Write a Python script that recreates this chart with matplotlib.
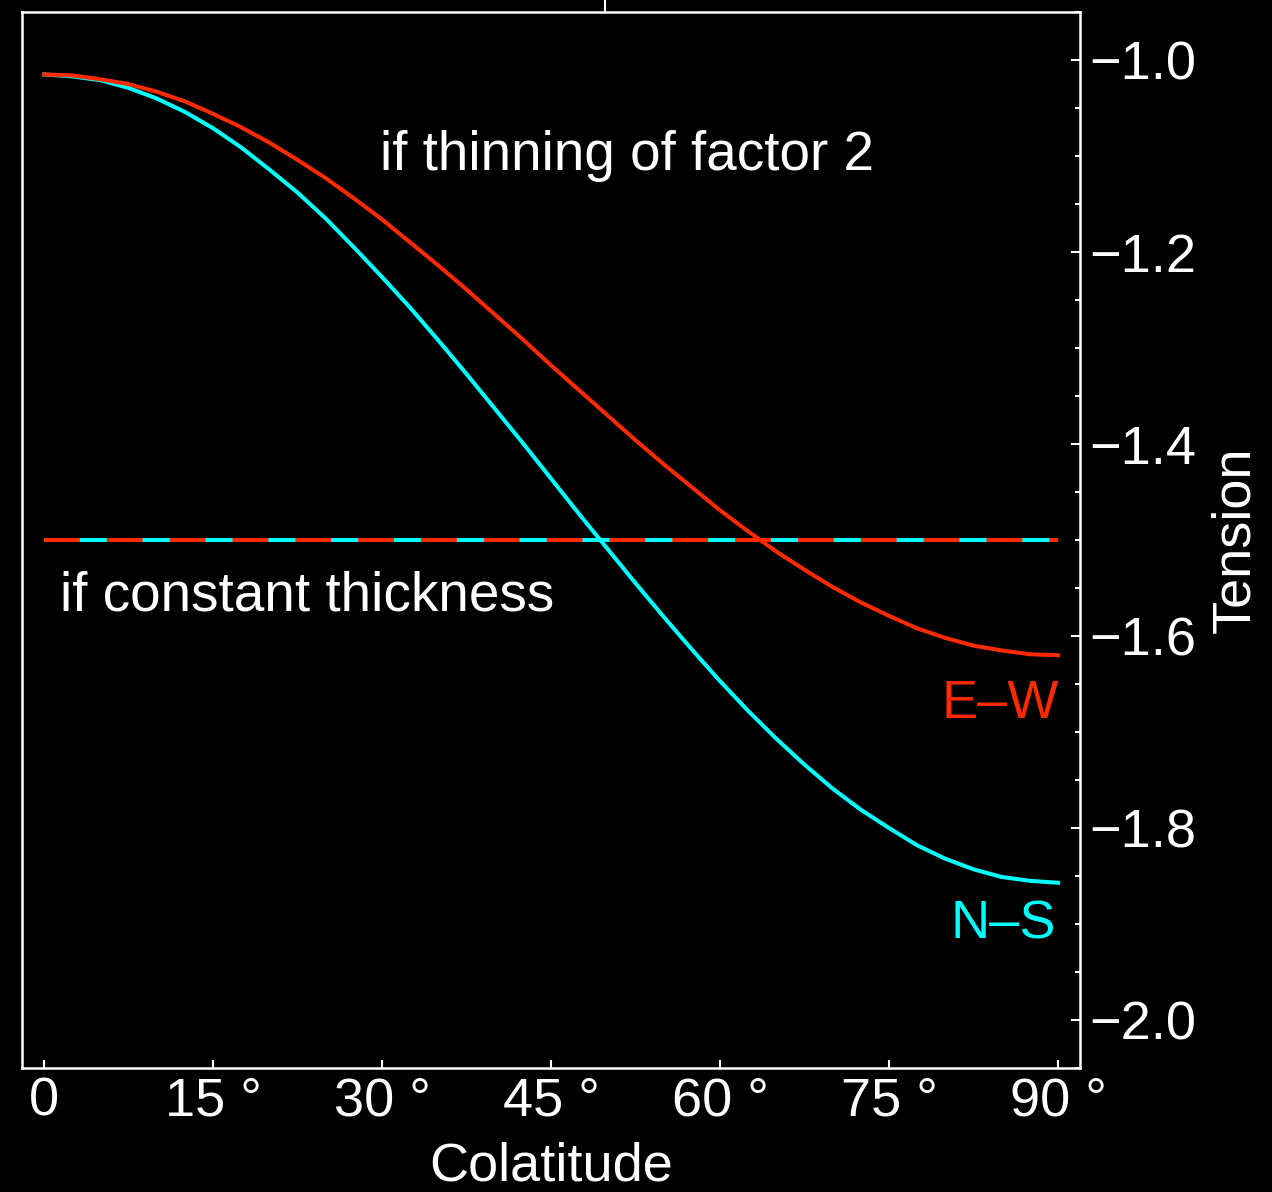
#!/usr/bin/env python3

import numpy as np
import matplotlib
matplotlib.use("Agg")
import matplotlib.pyplot as plt
from matplotlib.ticker import MultipleLocator


# values (colatitude in degrees, tension)
colatitude = [0, 2.5, 5, 7.5, 10, 12.5, 15, 17.5, 20, 22.5, 25, 27.5, 30,
              32.5, 35, 37.5, 40, 42.5, 45, 47.5, 50, 52.5, 55, 57.5, 60,
              62.5, 65, 67.5, 70, 72.5, 75, 77.5, 80, 82.5, 85, 87.5, 90]
tension_ew = [-1.015, -1.016, -1.020, -1.025, -1.033, -1.043, -1.056, -1.070,
              -1.086, -1.104, -1.123, -1.144, -1.166, -1.190, -1.214, -1.239,
              -1.265, -1.291, -1.318, -1.344, -1.370, -1.396, -1.421, -1.445,
              -1.469, -1.491, -1.512, -1.531, -1.549, -1.565, -1.579, -1.592,
              -1.602, -1.610, -1.615, -1.619, -1.620]
tension_ns = [-1.015, -1.017, -1.021, -1.029, -1.040, -1.054, -1.071, -1.091,
              -1.114, -1.138, -1.165, -1.195, -1.226, -1.258, -1.292, -1.327,
              -1.363, -1.399, -1.436, -1.473, -1.509, -1.545, -1.580, -1.614,
              -1.647, -1.678, -1.707, -1.734, -1.759, -1.781, -1.800, -1.818,
              -1.832, -1.843, -1.851, -1.855, -1.857]
constant_tension = -1.5

x_ticks = [0, 15, 30, 45, 60, 75, 90]
x_tick_labels = ["0", "15 °", "30 °", "45 °", "60 °", "75 °", "90 °"]
y_ticks = [-1.0, -1.2, -1.4, -1.6, -1.8, -2.0]
top_tick = [49.8]

RED = "#ff2a00"
CYAN = "#00ffff"
FG = "white"
LW = 2.9


def set_plot_style():
    plt.rcParams.update({
        "font.family": ["Liberation Sans", "DejaVu Sans"],
        "font.size": 39,
        "axes.linewidth": 1.8,
        "axes.edgecolor": FG,
        "axes.labelcolor": FG,
        "text.color": FG,
        "xtick.color": FG,
        "ytick.color": FG,
        "figure.facecolor": "black",
        "axes.facecolor": "black",
        "savefig.facecolor": "black",
    })


def make_plot():
    set_plot_style()

    fig = plt.figure(figsize=(12.72, 11.92), dpi=100)
    ax = fig.add_axes([0.0173, 0.104, 0.8318, 0.8859])

    x = np.asarray(colatitude, dtype=float)
    flat = np.full(len(x), constant_tension)

    # constant thickness: both components coincide -> two-colour dashes
    ax.plot(x, flat, color=CYAN, lw=LW, solid_capstyle="butt")
    ax.plot(x, flat, color=RED, lw=LW, dashes=(8.9, 6.7),
            dash_capstyle="butt")

    ax.plot(x, tension_ns, color=CYAN, lw=LW)
    ax.plot(x, tension_ew, color=RED, lw=LW)

    ax.set_xlim(-1.95, 91.95)
    ax.set_ylim(-2.05, -0.95)

    ax.set_xticks(x_ticks)
    ax.set_xticklabels(x_tick_labels)
    ax.tick_params(axis="x", direction="in", length=6, width=1.5, pad=6,
                   labelsize=39)

    ax.yaxis.tick_right()
    ax.yaxis.set_label_position("right")
    ax.set_yticks(y_ticks)
    ax.yaxis.set_minor_locator(MultipleLocator(0.05))
    ax.tick_params(axis="y", which="major", direction="in", length=6.5,
                   width=1.5, pad=7, labelsize=39)
    ax.tick_params(axis="y", which="minor", direction="in", length=3.6,
                   width=1.5)

    ax.set_xlabel("Colatitude", labelpad=11)
    ax.set_ylabel("Tension", labelpad=10)

    top = ax.secondary_xaxis("top")
    top.set_xticks(top_tick)
    top.set_xticklabels([""])
    top.tick_params(direction="out", length=9.5, width=1.5)
    top.spines["top"].set_visible(False)

    ax.text(29.8, -1.1146, "if thinning of factor 2", ha="left",
            va="baseline", fontsize=39.5)
    ax.text(1.42, -1.573, "if constant thickness", ha="left",
            va="baseline", fontsize=39.5)
    ax.text(90.1, -1.685, "E–W", color=RED, ha="right", va="baseline",
            fontsize=39)
    ax.text(89.8, -1.9146, "N–S", color=CYAN, ha="right", va="baseline",
            fontsize=39)

    fig.savefig("out.png", dpi=100)
    plt.close(fig)


def main():
    make_plot()


if __name__ == "__main__":
    main()
